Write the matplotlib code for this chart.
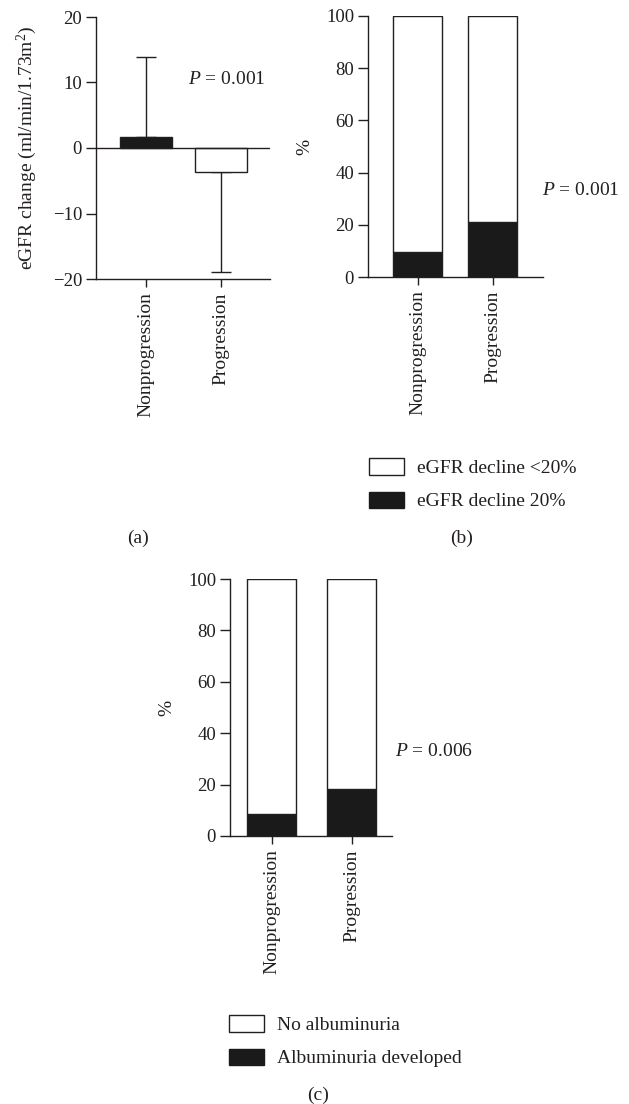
import matplotlib
matplotlib.use('Agg')
import matplotlib.pyplot as plt
from matplotlib.patches import Patch

plt.rcParams['font.family'] = ['Liberation Serif', 'DejaVu Serif']
plt.rcParams['mathtext.fontset'] = 'custom'
plt.rcParams['mathtext.rm'] = 'Liberation Serif'
plt.rcParams['mathtext.it'] = 'Liberation Serif:italic'
plt.rcParams['font.size'] = 14

groups = ['Nonprogression', 'Progression']

# (a) eGFR change, mean and one-sided SD
egfr_mean = [1.7, -3.6]
egfr_sd = [12.2, 15.3]
p_a = '0.001'

# (b) eGFR decline, %
decline20 = [9.5, 21.2]
decline_lt20 = [100 - v for v in decline20]
legend_b = ['eGFR decline <20%', 'eGFR decline 20%']
p_b = '0.001'

# (c) albuminuria, %
albu_dev = [8.6, 18.3]
albu_no = [100 - v for v in albu_dev]
legend_c = ['No albuminuria', 'Albuminuria developed']
p_c = '0.006'

ink = '#231f20'
black = '#1a1a1a'
lw = 1.0
fs = 14

W, H = 629, 1104
fig = plt.figure(figsize=(W / 100, H / 100), dpi=100)


def box(l, t, r, b):
    return [l / W, 1 - b / H, (r - l) / W, (b - t) / H]


def style(ax):
    for s in ['top', 'right']:
        ax.spines[s].set_visible(False)
    for s in ['left', 'bottom']:
        ax.spines[s].set_color(ink)
        ax.spines[s].set_linewidth(lw)
    ax.tick_params(axis='y', length=7, width=lw, color=ink, pad=3, labelcolor=ink, labelsize=13.5)
    ax.tick_params(axis='x', length=5.5, width=lw, color=ink, pad=4, labelcolor=ink, labelsize=fs)
    ax.set_xticks(range(len(groups)))
    ax.set_xticklabels(groups, rotation=90, va='top', ha='center')


x = list(range(len(groups)))

# panel (a)
ax_a = fig.add_axes(box(96, 17, 270, 279))
style(ax_a)
ax_a.bar(x, egfr_mean, width=0.69, color=[black, 'white'], edgecolor=ink, linewidth=lw, zorder=3)
up = [s if m > 0 else 0 for m, s in zip(egfr_mean, egfr_sd)]
down = [s if m < 0 else 0 for m, s in zip(egfr_mean, egfr_sd)]
ax_a.errorbar(x, egfr_mean, yerr=[down, up], fmt='none', ecolor=ink, elinewidth=lw,
              capsize=7, capthick=lw, zorder=2)
ax_a.axhline(0, color=ink, linewidth=lw, zorder=4)
ax_a.set_xlim(-0.667, 1.65)
ax_a.set_ylim(-20, 20)
ax_a.set_yticks([-20, -10, 0, 10, 20])
ax_a.set_yticklabels(['\u221220', '\u221210', '0', '10', '20'])
ax_a.set_ylabel('eGFR change (ml/min/1.73m$^2$)', color=ink, fontsize=fs)
ax_a.yaxis.set_label_coords(-0.33, 0.5)
ax_a.text(1.07, 10.5, '$P$ = ' + p_a, ha='center', va='center', color=ink, fontsize=fs)


def stacked(ax, low, high, xlim, wid, labels, p, px, leg_anchor):
    style(ax)
    ax.bar(x, low, width=wid, color=black, edgecolor=ink, linewidth=lw, zorder=3)
    ax.bar(x, high, bottom=low, width=wid, color='white', edgecolor=ink, linewidth=lw, zorder=3)
    ax.set_xlim(*xlim)
    ax.set_ylim(0, 100)
    ax.set_yticks([0, 20, 40, 60, 80, 100])
    ax.set_ylabel('%', color=ink, fontsize=fs)
    ax.text(px, 33, '$P$ = ' + p, ha='left', va='center', color=ink, fontsize=fs)
    handles = [Patch(facecolor='white', edgecolor=ink, linewidth=lw),
               Patch(facecolor=black, edgecolor=black, linewidth=lw)]
    fig.legend(handles, labels, loc='upper left', bbox_to_anchor=leg_anchor,
               frameon=False, borderpad=0, borderaxespad=0, handlelength=1.8,
               handleheight=0.93, handletextpad=0.67, labelspacing=0.75,
               fontsize=fs, labelcolor=ink)


# panel (b)
ax_b = fig.add_axes(box(368, 16, 543, 277))
stacked(ax_b, decline20, decline_lt20, (-0.66, 1.67), 0.65, legend_b, p_b, 1.66,
        (369 / W, 1 - 458 / H))
ax_b.yaxis.set_label_coords(-0.31, 0.5)

# panel (c)
ax_c = fig.add_axes(box(230, 579, 392, 836))
stacked(ax_c, albu_dev, albu_no, (-0.52, 1.5), 0.61, legend_c, p_c, 1.54,
        (229 / W, 1 - 1015 / H))
ax_c.yaxis.set_label_coords(-0.34, 0.5)

fig.text(138 / W, 1 - 538 / H, '(a)', ha='center', va='center', color=ink, fontsize=fs)
fig.text(462 / W, 1 - 538 / H, '(b)', ha='center', va='center', color=ink, fontsize=fs)
fig.text(318 / W, 1 - 1095 / H, '(c)', ha='center', va='center', color=ink, fontsize=fs)

fig.savefig('out.png', dpi=100)
